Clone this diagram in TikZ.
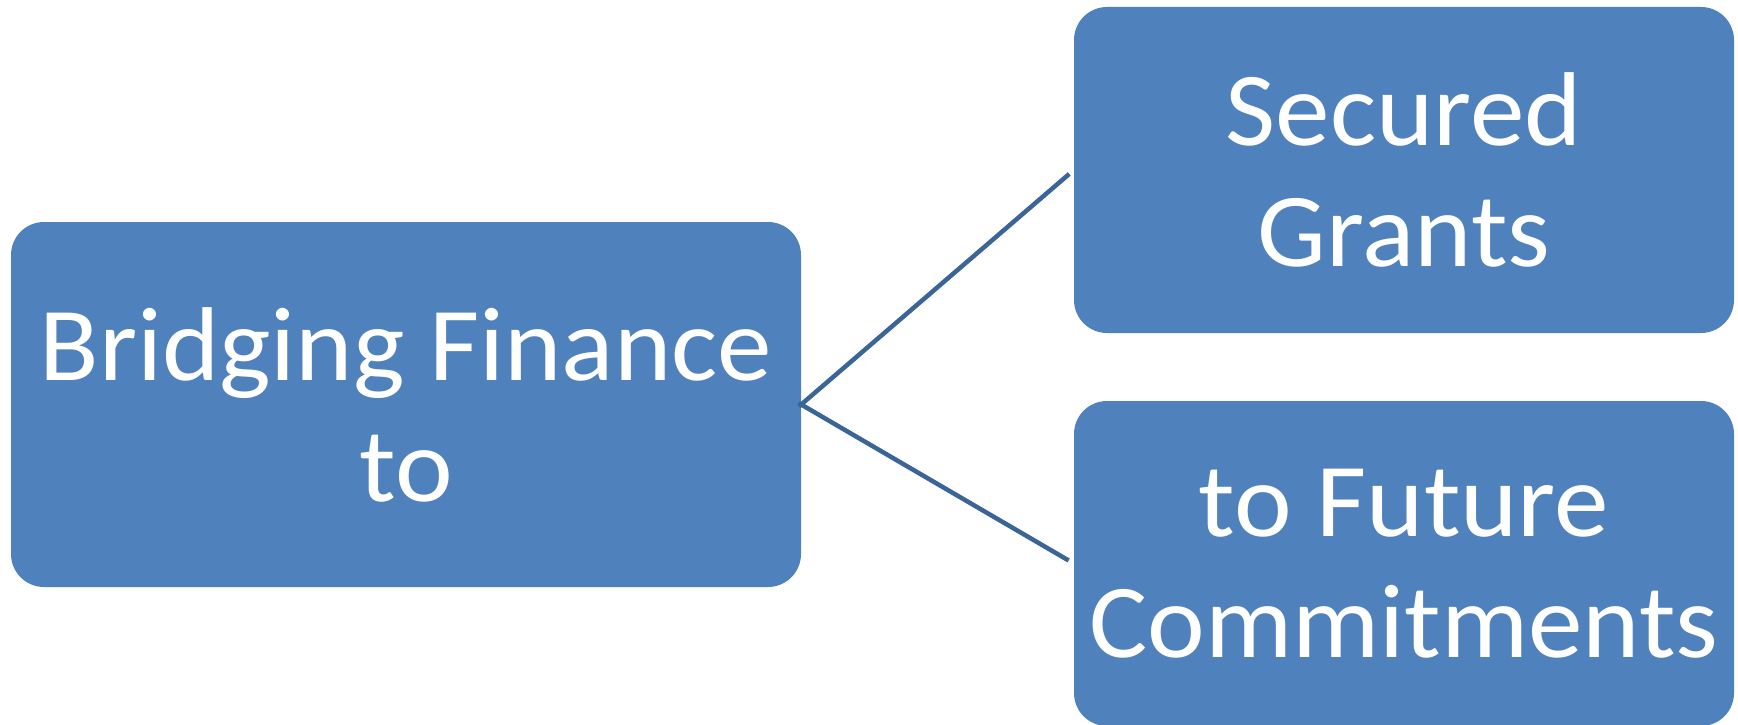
\documentclass[tikz,border=0pt]{standalone}
\usepackage{fontspec}
\setmainfont{Carlito}[FakeStretch=1.04]
\definecolor{boxblue}{HTML}{4F81BD}
\definecolor{linkblue}{HTML}{3B6596}
\tikzset{
  blockbox/.style={draw=none, fill=boxblue, rounded corners=33pt, inner sep=0pt,
    text=white, align=center, font=\fontsize{105}{121}\selectfont},
  linkline/.style={draw=linkblue, line width=4.5pt}
}
\begin{document}
\begin{tikzpicture}[x=1pt,y=-1pt]
\useasboundingbox (0,0) rectangle (1738,725);
\node[blockbox, minimum width=790pt, minimum height=365pt] (L) at (406,404.5) {Bridging Finance\\to};
\node[blockbox, minimum width=660pt, minimum height=326pt] (TR) at (1404,170) {Secured\\Grants};
\node[blockbox, minimum width=660pt, minimum height=325pt] (BR) at (1404,563.5) {to Future\\Commitments};
\draw[linkline, shorten <=-3pt, shorten >=6pt] (L.east) -- (TR.west);
\draw[linkline, shorten <=-3pt, shorten >=6pt] (L.east) -- (BR.west);
\end{tikzpicture}
\end{document}
